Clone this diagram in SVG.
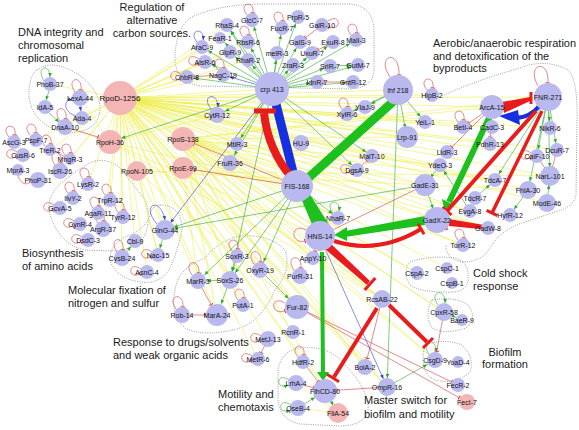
<svg xmlns="http://www.w3.org/2000/svg" width="579" height="430" viewBox="0 0 579 430">
<style>
.n circle{fill:#b9b9f0}
.p circle{fill:#f4b5b5}
text{font-family:"Liberation Sans",Arial,Helvetica,sans-serif;fill:#111}
.n text,.p text{font-size:7px;text-anchor:middle}
.t{font-size:11px;fill:#1a1a1a}
.tc{text-anchor:middle}
.y line{stroke:#eeee4e;stroke-width:.6}
.g line,.g path{stroke:#2fa82f;stroke-width:.6;fill:none}
.r line,.r path{stroke:#d43a3a;stroke-width:.6;fill:none}
.b line,.b path{stroke:#3040d0;stroke-width:.6;fill:none}
.reg{fill:none;stroke:#555;stroke-width:.6;stroke-dasharray:1 1.3}
</style>
<defs>
<marker id="g0" viewBox="-20 -4 22 8" markerWidth="22" markerHeight="8" refX="0" refY="0" orient="auto" markerUnits="userSpaceOnUse"><path d="M-4,-1.8L0,0L-4,1.8z" fill="#2fa82f"/></marker>
<marker id="g7" viewBox="-20 -4 22 8" markerWidth="22" markerHeight="8" refX="0" refY="0" orient="auto" markerUnits="userSpaceOnUse"><path d="M-11,-1.8L-7,0L-11,1.8z" fill="#2fa82f"/></marker>
<marker id="g9" viewBox="-20 -4 22 8" markerWidth="22" markerHeight="8" refX="0" refY="0" orient="auto" markerUnits="userSpaceOnUse"><path d="M-13,-1.8L-9,0L-13,1.8z" fill="#2fa82f"/></marker>
<marker id="g12" viewBox="-20 -4 22 8" markerWidth="22" markerHeight="8" refX="0" refY="0" orient="auto" markerUnits="userSpaceOnUse"><path d="M-16,-1.8L-12,0L-16,1.8z" fill="#2fa82f"/></marker>
<marker id="r0" viewBox="-20 -4 22 8" markerWidth="22" markerHeight="8" refX="0" refY="0" orient="auto" markerUnits="userSpaceOnUse"><path d="M0,-2.3V2.3" stroke="#d43a3a" stroke-width="1"/></marker>
<marker id="r7" viewBox="-20 -4 22 8" markerWidth="22" markerHeight="8" refX="0" refY="0" orient="auto" markerUnits="userSpaceOnUse"><path d="M-7,-2.3V2.3" stroke="#d43a3a" stroke-width="1"/></marker>
<marker id="r9" viewBox="-20 -4 22 8" markerWidth="22" markerHeight="8" refX="0" refY="0" orient="auto" markerUnits="userSpaceOnUse"><path d="M-9,-2.3V2.3" stroke="#d43a3a" stroke-width="1"/></marker>
<marker id="r12" viewBox="-20 -4 22 8" markerWidth="22" markerHeight="8" refX="0" refY="0" orient="auto" markerUnits="userSpaceOnUse"><path d="M-12,-2.3V2.3" stroke="#d43a3a" stroke-width="1"/></marker>
<marker id="b0" viewBox="-20 -4 22 8" markerWidth="22" markerHeight="8" refX="0" refY="0" orient="auto" markerUnits="userSpaceOnUse"><path d="M-4,-1.8L0,0L-4,1.8z" fill="#3040d0"/></marker>
<marker id="b7" viewBox="-20 -4 22 8" markerWidth="22" markerHeight="8" refX="0" refY="0" orient="auto" markerUnits="userSpaceOnUse"><path d="M-11,-1.8L-7,0L-11,1.8z" fill="#3040d0"/></marker>
<marker id="b9" viewBox="-20 -4 22 8" markerWidth="22" markerHeight="8" refX="0" refY="0" orient="auto" markerUnits="userSpaceOnUse"><path d="M-13,-1.8L-9,0L-13,1.8z" fill="#3040d0"/></marker>
</defs>
<rect width="579" height="430" fill="#fff"/>
<g id="regions">
<path class="reg" d="M37,70 Q50,60 70,70 Q95,82 100,105 Q101,126 82,131 Q62,136 45,124 Q28,112 29,90 Q30,75 37,70Z"/>
<path class="reg" d="M190,18 Q215,5 260,4 L350,4 Q373,6 374,30 L374,70 Q373,88 350,89 L200,86 Q176,82 175,60 Q175,30 190,18Z"/>
<path class="reg" d="M436,99 Q470,82 520,68 Q545,58 568,70 Q578,80 577,120 L576,195 Q574,207 555,212 L525,222 Q500,230 490,248 Q482,262 462,262 Q445,258 446,245"/>
<path class="reg" d="M95,161 Q110,158 122,170 L145,200 Q152,215 145,235 Q138,250 110,251 L85,250 Q60,245 50,215 Q45,195 65,180 Q85,164 95,161Z"/>
<path class="reg" d="M160,205 Q182,205 182,230 Q178,250 170,268 Q160,285 140,282 Q115,278 110,260 Q110,245 125,237 Q145,230 150,215 Q152,205 160,205Z"/>
<path class="reg" d="M240,236 Q270,234 285,250 Q292,270 275,290 Q262,320 240,328 Q205,338 185,328 Q170,315 175,290 Q178,268 205,258 Q220,240 240,236Z"/>
<path class="reg" d="M300,348 Q330,345 345,365 Q365,385 368,405 Q370,425 340,426 L300,424 Q280,420 278,400 L278,370 Q282,350 300,348Z"/>
<path class="reg" d="M410,262 Q430,255 455,258 Q470,262 468,280 Q466,294 445,292 Q420,292 410,285 Q402,272 410,262Z"/>
<path class="reg" d="M432,300 Q455,296 468,305 Q478,318 466,328 Q445,335 432,328 Q424,315 432,300Z"/>
<path class="reg" d="M425,345 Q445,338 462,345 Q475,358 470,372 Q455,385 435,380 Q418,372 425,345Z"/>
</g>
<g id="edges">
<g class="y">
<line x1="120" y1="98" x2="50" y2="84"/><line x1="120" y1="98" x2="80" y2="98"/><line x1="120" y1="98" x2="65" y2="127"/><line x1="120" y1="98" x2="110" y2="142"/><line x1="120" y1="98" x2="183" y2="139"/><line x1="120" y1="98" x2="183" y2="168"/><line x1="120" y1="98" x2="137" y2="171"/><line x1="120" y1="98" x2="217" y2="115"/><line x1="120" y1="98" x2="272" y2="89"/><line x1="120" y1="98" x2="202" y2="47"/><line x1="120" y1="98" x2="205" y2="62"/><line x1="120" y1="98" x2="187" y2="77"/><line x1="120" y1="98" x2="223" y2="75"/><line x1="120" y1="98" x2="230" y2="52"/><line x1="120" y1="98" x2="248" y2="60"/><line x1="120" y1="98" x2="248" y2="42"/><line x1="120" y1="98" x2="220" y2="38"/><line x1="120" y1="98" x2="227" y2="25"/><line x1="120" y1="98" x2="237" y2="144"/><line x1="120" y1="98" x2="230" y2="163"/><line x1="120" y1="98" x2="301" y2="143"/><line x1="120" y1="98" x2="398" y2="90"/><line x1="120" y1="98" x2="407" y2="137"/><line x1="120" y1="98" x2="425" y2="122"/><line x1="120" y1="98" x2="347" y2="114"/><line x1="120" y1="98" x2="365" y2="107"/><line x1="120" y1="98" x2="432" y2="95"/><line x1="120" y1="98" x2="492" y2="107"/><line x1="120" y1="98" x2="548" y2="97"/><line x1="120" y1="98" x2="463" y2="127"/><line x1="120" y1="98" x2="492" y2="127"/><line x1="120" y1="98" x2="490" y2="144"/><line x1="120" y1="98" x2="447" y2="152"/><line x1="120" y1="98" x2="440" y2="165"/><line x1="120" y1="98" x2="425" y2="185"/><line x1="120" y1="98" x2="372" y2="156"/><line x1="120" y1="98" x2="357" y2="170"/><line x1="120" y1="98" x2="297" y2="186"/><line x1="120" y1="98" x2="320" y2="236"/><line x1="120" y1="98" x2="338" y2="218"/><line x1="120" y1="98" x2="437" y2="220"/><line x1="120" y1="98" x2="488" y2="228"/><line x1="120" y1="98" x2="495" y2="180"/><line x1="120" y1="98" x2="550" y2="176"/><line x1="120" y1="98" x2="528" y2="190"/><line x1="120" y1="98" x2="470" y2="211"/><line x1="120" y1="98" x2="463" y2="245"/><line x1="120" y1="98" x2="417" y2="273"/><line x1="120" y1="98" x2="447" y2="268"/><line x1="120" y1="98" x2="165" y2="230"/><line x1="120" y1="98" x2="158" y2="255"/><line x1="120" y1="98" x2="198" y2="281"/><line x1="120" y1="98" x2="230" y2="280"/><line x1="120" y1="98" x2="237" y2="256"/><line x1="120" y1="98" x2="260" y2="270"/><line x1="120" y1="98" x2="217" y2="315"/><line x1="120" y1="98" x2="300" y2="276"/><line x1="120" y1="98" x2="313" y2="258"/><line x1="120" y1="98" x2="297" y2="307"/><line x1="120" y1="98" x2="382" y2="299"/><line x1="120" y1="98" x2="444" y2="312"/><line x1="120" y1="98" x2="435" y2="360"/><line x1="120" y1="98" x2="387" y2="387"/><line x1="120" y1="98" x2="325" y2="391"/><line x1="120" y1="98" x2="268" y2="339"/><line x1="120" y1="98" x2="258" y2="359"/><line x1="120" y1="98" x2="88" y2="184"/><line x1="120" y1="98" x2="110" y2="200"/><line x1="120" y1="98" x2="60" y2="171"/><line x1="120" y1="98" x2="50" y2="150"/><line x1="120" y1="98" x2="35" y2="140"/><line x1="120" y1="98" x2="70" y2="159"/><line x1="120" y1="98" x2="123" y2="217"/><line x1="120" y1="98" x2="103" y2="229"/><line x1="120" y1="98" x2="135" y2="241"/><line x1="120" y1="98" x2="122" y2="258"/><line x1="120" y1="98" x2="147" y2="272"/><line x1="120" y1="98" x2="557" y2="150"/><line x1="120" y1="98" x2="537" y2="156"/><line x1="120" y1="98" x2="550" y2="128"/><line x1="120" y1="98" x2="547" y2="203"/><line x1="120" y1="98" x2="365" y2="367"/><line x1="120" y1="98" x2="243" y2="305"/><line x1="120" y1="98" x2="293" y2="332"/><line x1="120" y1="98" x2="303" y2="362"/>
<line x1="183" y1="139" x2="437" y2="220"/><line x1="183" y1="139" x2="425" y2="185"/><line x1="183" y1="139" x2="488" y2="228"/><line x1="183" y1="139" x2="320" y2="236"/><line x1="183" y1="139" x2="435" y2="360"/><line x1="183" y1="139" x2="382" y2="299"/><line x1="183" y1="139" x2="387" y2="387"/><line x1="183" y1="139" x2="365" y2="367"/><line x1="183" y1="139" x2="297" y2="307"/><line x1="183" y1="139" x2="548" y2="97"/><line x1="183" y1="139" x2="492" y2="107"/><line x1="183" y1="139" x2="495" y2="180"/><line x1="183" y1="139" x2="440" y2="165"/><line x1="183" y1="139" x2="217" y2="315"/><line x1="183" y1="139" x2="230" y2="280"/><line x1="183" y1="139" x2="260" y2="270"/><line x1="183" y1="139" x2="325" y2="391"/><line x1="183" y1="139" x2="407" y2="137"/><line x1="183" y1="139" x2="463" y2="245"/><line x1="183" y1="139" x2="417" y2="273"/><line x1="183" y1="139" x2="444" y2="312"/><line x1="183" y1="139" x2="470" y2="211"/><line x1="183" y1="139" x2="338" y2="218"/><line x1="183" y1="139" x2="313" y2="258"/>
<line x1="110" y1="142" x2="297" y2="186"/><line x1="110" y1="142" x2="217" y2="115"/><line x1="110" y1="142" x2="65" y2="127"/><line x1="110" y1="142" x2="80" y2="98"/><line x1="110" y1="142" x2="320" y2="236"/><line x1="110" y1="142" x2="382" y2="299"/>
<line x1="183" y1="168" x2="198" y2="281"/><line x1="183" y1="168" x2="297" y2="186"/><line x1="183" y1="168" x2="382" y2="299"/><line x1="183" y1="168" x2="387" y2="387"/><line x1="183" y1="168" x2="297" y2="307"/>
<line x1="137" y1="171" x2="165" y2="230"/><line x1="137" y1="171" x2="158" y2="255"/><line x1="137" y1="171" x2="550" y2="176"/><line x1="137" y1="171" x2="528" y2="190"/><line x1="137" y1="171" x2="297" y2="307"/>
<line x1="338" y1="413" x2="325" y2="391"/><line x1="338" y1="413" x2="298" y2="408"/><line x1="338" y1="413" x2="296" y2="383"/>
<line x1="467" y1="402" x2="458" y2="385"/>
</g>
<g class="g">
<line x1="272" y1="89" x2="227" y2="25" marker-end="url(#g7)"/><line x1="272" y1="89" x2="252" y2="20" marker-end="url(#g7)"/><line x1="272" y1="89" x2="282" y2="28" marker-end="url(#g7)"/><line x1="272" y1="89" x2="298" y2="17" marker-end="url(#g7)"/><line x1="272" y1="89" x2="220" y2="38" marker-end="url(#g7)"/><line x1="272" y1="89" x2="248" y2="42" marker-end="url(#g7)"/><line x1="272" y1="89" x2="300" y2="42" marker-end="url(#g7)"/><line x1="272" y1="89" x2="333" y2="42" marker-end="url(#g7)"/><line x1="272" y1="89" x2="356" y2="40" marker-end="url(#g7)"/><line x1="272" y1="89" x2="202" y2="47" marker-end="url(#g7)"/><line x1="272" y1="89" x2="230" y2="52" marker-end="url(#g7)"/><line x1="272" y1="89" x2="277" y2="53" marker-end="url(#g7)"/><line x1="272" y1="89" x2="312" y2="53" marker-end="url(#g7)"/><line x1="272" y1="89" x2="205" y2="62" marker-end="url(#g7)"/><line x1="272" y1="89" x2="248" y2="60" marker-end="url(#g7)"/><line x1="272" y1="89" x2="293" y2="65" marker-end="url(#g7)"/><line x1="272" y1="89" x2="330" y2="66" marker-end="url(#g7)"/><line x1="272" y1="89" x2="358" y2="65" marker-end="url(#g7)"/><line x1="272" y1="89" x2="187" y2="77" marker-end="url(#g7)"/><line x1="272" y1="89" x2="317" y2="82" marker-end="url(#g7)"/><line x1="272" y1="89" x2="353" y2="82" marker-end="url(#g7)"/><line x1="272" y1="89" x2="217" y2="115" marker-end="url(#g9)"/><line x1="272" y1="89" x2="237" y2="144" marker-end="url(#g7)"/><line x1="272" y1="89" x2="230" y2="163" marker-end="url(#g9)"/><line x1="272" y1="89" x2="372" y2="156" marker-end="url(#g7)"/><line x1="272" y1="89" x2="110" y2="142" marker-end="url(#g12)"/><line x1="272" y1="89" x2="357" y2="170" marker-end="url(#g7)"/><line x1="272" y1="89" x2="230" y2="280" marker-end="url(#g9)"/>
<line x1="297" y1="186" x2="165" y2="230" marker-end="url(#g9)"/><line x1="297" y1="186" x2="198" y2="281" marker-end="url(#g9)"/><line x1="297" y1="186" x2="260" y2="270" marker-end="url(#g9)"/><line x1="297" y1="186" x2="338" y2="218" marker-end="url(#g7)"/><line x1="297" y1="186" x2="230" y2="280" marker-end="url(#g9)"/>
<line x1="398" y1="90" x2="365" y2="107" marker-end="url(#g7)"/><line x1="398" y1="90" x2="347" y2="114" marker-end="url(#g7)"/><line x1="398" y1="90" x2="425" y2="122" marker-end="url(#g7)"/><line x1="398" y1="90" x2="407" y2="137" marker-end="url(#g9)"/><line x1="398" y1="90" x2="387" y2="387" marker-end="url(#g9)"/>
<line x1="425" y1="185" x2="437" y2="220" marker-end="url(#g12)"/><line x1="425" y1="185" x2="165" y2="230" marker-end="url(#g9)"/><line x1="440" y1="165" x2="425" y2="185" marker-end="url(#g9)"/><line x1="470" y1="211" x2="440" y2="165" marker-end="url(#g7)"/>
<line x1="548" y1="97" x2="550" y2="176" marker-end="url(#g9)"/><line x1="548" y1="97" x2="537" y2="156" marker-end="url(#g7)"/><line x1="548" y1="97" x2="557" y2="150" marker-end="url(#g7)"/><line x1="548" y1="97" x2="528" y2="190" marker-end="url(#g9)"/><line x1="548" y1="97" x2="550" y2="128" marker-end="url(#g7)"/><line x1="548" y1="97" x2="495" y2="180" marker-end="url(#g7)"/>
<line x1="547" y1="203" x2="550" y2="176" marker-end="url(#g9)"/><line x1="528" y1="190" x2="510" y2="215" marker-end="url(#g7)"/><line x1="475" y1="198" x2="495" y2="180" marker-end="url(#g7)"/>
<line x1="237" y1="256" x2="230" y2="280" marker-end="url(#g9)"/><line x1="230" y1="280" x2="217" y2="315" marker-end="url(#g12)"/><line x1="230" y1="280" x2="198" y2="281" marker-end="url(#g9)"/><line x1="260" y1="270" x2="297" y2="307" marker-end="url(#g12)"/>
<line x1="165" y1="230" x2="158" y2="255" marker-end="url(#g7)"/><line x1="122" y1="258" x2="135" y2="241" marker-end="url(#g7)"/>
<line x1="49" y1="91" x2="46" y2="100" marker-end="url(#g0)"/><line x1="48" y1="112" x2="59" y2="122" marker-end="url(#g0)"/>
<line x1="325" y1="391" x2="338" y2="413" marker-end="url(#g9)"/><line x1="298" y1="408" x2="325" y2="391" marker-end="url(#g12)"/><line x1="387" y1="387" x2="435" y2="360" marker-end="url(#g9)"/><line x1="444" y1="312" x2="462" y2="320" marker-end="url(#g7)"/>
<line x1="330" y1="66" x2="358" y2="65" marker-end="url(#g7)"/><line x1="248" y1="60" x2="227" y2="25" marker-end="url(#g7)"/>
<path d="M44,81 C35,67 50,62 50,77" marker-end="url(#g0)"/>
<path d="M333,213 C323,201 341,197 339,211" marker-end="url(#g0)"/>
<path d="M289,380 C276,371 275,391 288,385" marker-end="url(#g0)"/>
<path d="M291,405 C278,396 277,416 290,410" marker-end="url(#g0)"/>
<path d="M438,305 C428,291 446,287 445,303" marker-end="url(#g0)"/>
<path d="M429,354 C419,340 437,336 436,352" marker-end="url(#g0)"/>
</g>
<g class="r">
<line x1="297" y1="186" x2="183" y2="139" marker-end="url(#r12)"/><line x1="297" y1="186" x2="183" y2="168" marker-end="url(#r12)"/>
<line x1="320" y1="236" x2="313" y2="258" marker-end="url(#r7)"/><line x1="320" y1="236" x2="425" y2="185" marker-end="url(#r9)"/>
<line x1="492" y1="107" x2="463" y2="127" marker-end="url(#r7)"/><line x1="492" y1="107" x2="490" y2="144" marker-end="url(#r7)"/><line x1="492" y1="107" x2="447" y2="152" marker-end="url(#r7)"/>
<line x1="537" y1="156" x2="550" y2="176" marker-end="url(#r9)"/><line x1="557" y1="150" x2="550" y2="176" marker-end="url(#r9)"/>
<line x1="297" y1="307" x2="467" y2="402" marker-end="url(#r9)"/><line x1="297" y1="307" x2="458" y2="385" marker-end="url(#r7)"/>
<line x1="268" y1="339" x2="258" y2="359" marker-end="url(#r7)"/><line x1="182" y1="315" x2="217" y2="315" marker-end="url(#r12)"/><line x1="198" y1="281" x2="217" y2="315" marker-end="url(#r12)"/>
<line x1="382" y1="299" x2="365" y2="367" marker-end="url(#r9)"/><line x1="387" y1="387" x2="325" y2="391" marker-end="url(#r12)"/><line x1="303" y1="362" x2="325" y2="391" marker-end="url(#r12)" style="stroke:#c0703a"/><line x1="296" y1="383" x2="325" y2="391" marker-end="url(#r12)"/><line x1="444" y1="312" x2="435" y2="360" marker-end="url(#r9)"/>
<line x1="322" y1="25" x2="300" y2="42" marker-end="url(#r7)"/><line x1="333" y1="42" x2="312" y2="53" marker-end="url(#r7)"/><line x1="353" y1="82" x2="317" y2="82" marker-end="url(#r7)"/><line x1="223" y1="75" x2="187" y2="77" marker-end="url(#r7)"/>
<line x1="55" y1="151" x2="65" y2="157" marker-end="url(#r0)"/><line x1="72" y1="129" x2="98" y2="137" marker-end="url(#r0)"/><line x1="357" y1="170" x2="372" y2="156" marker-end="url(#r7)"/>
<path d="M18,176 C22,186 28,185 31,181" marker-end="url(#r0)"/>
<path d="M75,92 C65,78 83,74 81,90" marker-end="url(#r0)"/>
<path d="M60,121 C50,107 68,103 66,119" marker-end="url(#r0)"/>
<path d="M9,137 C-1,125 17,121 15,135" marker-end="url(#r0)"/>
<path d="M30,135 C20,123 38,119 36,133" marker-end="url(#r0)"/>
<path d="M45,146 C35,134 53,130 51,144" marker-end="url(#r0)"/>
<path d="M65,155 C55,143 73,139 71,153" marker-end="url(#r0)"/>
<path d="M17,152 C4,143 3,163 16,157" marker-end="url(#r0)"/>
<path d="M55,165 C45,151 63,147 61,163" marker-end="url(#r0)"/>
<path d="M83,179 C73,167 91,163 89,177" marker-end="url(#r0)"/>
<path d="M68,193 C58,181 76,177 74,191" marker-end="url(#r0)"/>
<path d="M105,195 C95,183 113,179 111,193" marker-end="url(#r0)"/>
<path d="M54,205 C41,196 40,216 53,210" marker-end="url(#r0)"/>
<path d="M93,208 C83,196 101,192 99,206" marker-end="url(#r0)"/>
<path d="M118,212 C108,200 126,196 124,210" marker-end="url(#r0)"/>
<path d="M74,221 C61,212 60,232 73,226" marker-end="url(#r0)"/>
<path d="M98,223 C88,209 106,205 104,221" marker-end="url(#r0)"/>
<path d="M82,237 C69,228 68,248 81,242" marker-end="url(#r0)"/>
<path d="M117,252 C107,238 125,234 123,250" marker-end="url(#r0)"/>
<path d="M152,252 C139,243 138,263 151,257" marker-end="url(#r0)"/>
<path d="M141,269 C128,260 127,280 140,274" marker-end="url(#r0)"/>
<path d="M199,59 C186,50 185,70 198,64" marker-end="url(#r0)"/>
<path d="M181,74 C168,65 167,85 180,79" marker-end="url(#r0)"/>
<path d="M218,70 C208,58 226,54 224,68" marker-end="url(#r0)"/>
<path d="M243,37 C233,25 251,21 249,35" marker-end="url(#r0)"/>
<path d="M247,15 C237,3 255,-1 253,13" marker-end="url(#r0)"/>
<path d="M277,23 C267,11 285,7 283,21" marker-end="url(#r0)"/>
<path d="M328,21 C341,12 342,32 329,27" marker-end="url(#r0)"/>
<path d="M351,35 C341,23 359,19 357,33" marker-end="url(#r0)"/>
<path d="M390,77 C375,55 400,48 399,75" marker-end="url(#r0)"/>
<path d="M427,90 C417,78 435,74 433,88" marker-end="url(#r0)"/>
<path d="M538,86 C525,63 550,58 548,83" marker-end="url(#r0)"/>
<path d="M531,153 C518,144 517,164 530,158" marker-end="url(#r0)"/>
<path d="M351,167 C338,158 337,178 350,172" marker-end="url(#r0)"/>
<path d="M306,230 C290,222 290,245 305,241" marker-end="url(#r0)"/>
<path d="M294,270 C284,256 302,252 301,268" marker-end="url(#r0)"/>
<path d="M285,303 C270,294 270,316 285,311" marker-end="url(#r0)"/>
<path d="M261,336 C248,327 247,347 260,341" marker-end="url(#r0)"/>
<path d="M252,356 C239,347 238,367 251,361" marker-end="url(#r0)"/>
<path d="M232,251 C222,239 240,235 238,249" marker-end="url(#r0)"/>
<path d="M254,264 C244,250 262,246 261,262" marker-end="url(#r0)"/>
<path d="M192,275 C182,261 200,257 199,273" marker-end="url(#r0)"/>
<path d="M238,300 C228,288 246,284 244,298" marker-end="url(#r0)"/>
<path d="M176,309 C166,295 184,291 183,307" marker-end="url(#r0)"/>
<path d="M298,357 C288,345 306,341 304,355" marker-end="url(#r0)"/>
<path d="M342,109 C332,97 350,93 348,107" marker-end="url(#r0)"/>
<path d="M458,240 C448,228 466,224 464,238" marker-end="url(#r0)"/>
<path d="M458,122 C448,110 466,106 464,120" marker-end="url(#r0)"/>
</g>
<g class="b">
<line x1="272" y1="89" x2="165" y2="230" marker-end="url(#b9)"/><line x1="272" y1="89" x2="223" y2="75" marker-end="url(#b7)"/><line x1="297" y1="186" x2="387" y2="387" marker-end="url(#b9)"/><line x1="80" y1="106" x2="81" y2="111" marker-end="url(#b0)"/>
<path d="M76,116 C62,112 64,98 72,100" marker-end="url(#b0)"/>
<path d="M157,224 C140,205 160,195 165,220" marker-end="url(#b0)"/>
<path d="M211,109 C200,95 218,91 218,107" marker-end="url(#b0)"/>
<path d="M197,42 C187,30 205,26 203,40" marker-end="url(#b0)"/>
</g>
<g id="thick">
<line x1="276" y1="104" x2="293" y2="172" stroke="#1530e0" stroke-width="9"/>
<path d="M264,113 Q268,150 292,178" fill="none" stroke="#e81c1c" stroke-width="8"/>
<line x1="254" y1="111" x2="276" y2="111" stroke="#e81c1c" stroke-width="5"/>
<line x1="396" y1="99" x2="306" y2="180" stroke="#1ec01e" stroke-width="9"/>
<polygon points="300,196 309,193 330,226 314,229" fill="#1ec01e"/>
<line x1="322" y1="252" x2="323" y2="374" stroke="#1ec01e" stroke-width="4"/>
<polygon points="317,372 329,372 323,381" fill="#1ec01e"/>
<polygon points="425,216 425,225 345,237 345,231" fill="#1ec01e"/>
<polygon points="347,227 347,241 334,235" fill="#1ec01e"/>
<path d="M334,241 Q378,255 421,229" fill="none" stroke="#e81c1c" stroke-width="4"/>
<line x1="417.9" y1="223.8" x2="424.1" y2="234.2" stroke="#e81c1c" stroke-width="3"/>
<polygon points="325,249 330,243 370,281 367,285" fill="#e81c1c"/>
<line x1="364.7" y1="290" x2="375.3" y2="278" stroke="#e81c1c" stroke-width="3"/>
<line x1="389" y1="305" x2="427" y2="342" stroke="#e81c1c" stroke-width="4"/>
<line x1="423" y1="348" x2="433" y2="338" stroke="#e81c1c" stroke-width="3"/>
<line x1="377" y1="308" x2="334" y2="377" stroke="#e81c1c" stroke-width="4"/>
<line x1="327" y1="374.3" x2="339" y2="381.7" stroke="#e81c1c" stroke-width="3"/>
<polygon points="502,102 504,113 530,101 530,97" fill="#e81c1c"/>
<line x1="531" y1="92" x2="531" y2="104" stroke="#e81c1c" stroke-width="3"/>
<path d="M541,104 Q530,118 515,118" fill="none" stroke="#1530e0" stroke-width="4"/>
<polygon points="518,110 520,125 499,116" fill="#1530e0"/>
<line x1="489" y1="118" x2="449" y2="202" stroke="#1ec01e" stroke-width="6"/>
<polygon points="442,199 454,205 445,212" fill="#1ec01e"/>
<line x1="536" y1="111" x2="447" y2="211" stroke="#e81c1c" stroke-width="4"/>
<line x1="442.5" y1="207" x2="451.5" y2="215" stroke="#e81c1c" stroke-width="3"/>
<line x1="542" y1="111" x2="492" y2="213" stroke="#e81c1c" stroke-width="3.5"/>
<line x1="486.6" y1="210.4" x2="497.4" y2="215.6" stroke="#e81c1c" stroke-width="3"/>
<polygon points="449,219 449,226 490,230 490,226" fill="#e81c1c"/>
<line x1="446" y1="214" x2="446" y2="230" stroke="#e81c1c" stroke-width="3"/>
</g>
</g>
<g id="nodes">
<g id="n-rpod" class="p"><circle cx="120" cy="98" r="17"/><text x="120" y="100.5" style="font-size:8px">RpoD-1256</text></g>
<g id="n-rpoh" class="p"><circle cx="110" cy="142" r="12"/><text x="110" y="144.5">RpoH-36</text></g>
<g id="n-rpos" class="p"><circle cx="183" cy="139" r="12"/><text x="183" y="141.5">RpoS-138</text></g>
<g id="n-rpon" class="p"><circle cx="137" cy="171" r="10"/><text x="137" y="173.5">RpoN-105</text></g>
<g id="n-rpoe" class="p"><circle cx="183" cy="168" r="11"/><text x="183" y="170.5">RpoE-99</text></g>
<g id="n-flia" class="p"><circle cx="338" cy="413" r="10"/><text x="338" y="415.5">FliA-54</text></g>
<g id="n-feci" class="p"><circle cx="467" cy="402" r="8"/><text x="467" y="404.5">FecI-7</text></g>
<g id="n-phob" class="n"><circle cx="50" cy="84" r="7"/><text x="50" y="86.5">PhoB-37</text></g>
<g id="n-ida" class="n"><circle cx="45" cy="107" r="7"/><text x="45" y="109.5">IdA-5</text></g>
<g id="n-lexa" class="n"><circle cx="80" cy="98" r="8"/><text x="80" y="100.5">LexA-44</text></g>
<g id="n-ada" class="n"><circle cx="82" cy="118" r="7"/><text x="82" y="120.5">Ada-4</text></g>
<g id="n-dnaa" class="n"><circle cx="65" cy="127" r="8"/><text x="65" y="129.5">DnaA-10</text></g>
<g id="n-ascg" class="n"><circle cx="14" cy="142" r="7"/><text x="14" y="144.5">AscG-3</text></g>
<g id="n-pspf" class="n"><circle cx="36" cy="140" r="7"/><text x="36" y="142.5">PspF-7</text></g>
<g id="n-cusr" class="n"><circle cx="23" cy="155" r="7"/><text x="23" y="157.5">CusR-6</text></g>
<g id="n-trer" class="n"><circle cx="50" cy="150" r="6"/><text x="50" y="152.5">TreR-2</text></g>
<g id="n-mngr" class="n"><circle cx="70" cy="159" r="6"/><text x="70" y="161.5">MngR-3</text></g>
<g id="n-mpra" class="n"><circle cx="18" cy="170" r="6"/><text x="18" y="172.5">MprA-3</text></g>
<g id="n-iscr" class="n"><circle cx="60" cy="171" r="8"/><text x="60" y="173.5">IscR-26</text></g>
<g id="n-phop" class="n"><circle cx="38" cy="180" r="8"/><text x="38" y="182.5">PhoP-31</text></g>
<g id="n-lysr" class="n"><circle cx="88" cy="184" r="7"/><text x="88" y="186.5">LysR-2</text></g>
<g id="n-ilvy" class="n"><circle cx="73" cy="198" r="7"/><text x="73" y="200.5">IlvY-2</text></g>
<g id="n-trpr" class="n"><circle cx="110" cy="200" r="7"/><text x="110" y="202.5">TrpR-12</text></g>
<g id="n-gcva" class="n"><circle cx="60" cy="208" r="7"/><text x="60" y="210.5">GcvA-5</text></g>
<g id="n-agar" class="n"><circle cx="98" cy="213" r="7"/><text x="98" y="215.5">AgaR-11</text></g>
<g id="n-tyrr" class="n"><circle cx="123" cy="217" r="7"/><text x="123" y="219.5">TyrR-12</text></g>
<g id="n-cynr" class="n"><circle cx="80" cy="224" r="7"/><text x="80" y="226.5">CynR-4</text></g>
<g id="n-argr" class="n"><circle cx="103" cy="229" r="8"/><text x="103" y="231.5">ArgR-37</text></g>
<g id="n-dsdc" class="n"><circle cx="88" cy="240" r="7"/><text x="88" y="242.5">DsdC-3</text></g>
<g id="n-cbl" class="n"><circle cx="135" cy="241" r="7"/><text x="135" y="243.5">Cbl-9</text></g>
<g id="n-cysb" class="n"><circle cx="122" cy="258" r="8"/><text x="122" y="260.5">CysB-24</text></g>
<g id="n-asnc" class="n"><circle cx="147" cy="272" r="7"/><text x="147" y="274.5">AsnC-4</text></g>
<g id="n-nac" class="n"><circle cx="158" cy="255" r="7"/><text x="158" y="257.5">Nac-15</text></g>
<g id="n-glng" class="n"><circle cx="165" cy="230" r="10"/><text x="165" y="232.5">GlnG-44</text></g>
<g id="n-rhas" class="n"><circle cx="227" cy="25" r="7"/><text x="227" y="27.5">RhaS-4</text></g>
<g id="n-glcc" class="n"><circle cx="252" cy="20" r="7"/><text x="252" y="22.5">GlcC-7</text></g>
<g id="n-fucr" class="n"><circle cx="282" cy="28" r="7"/><text x="282" y="30.5">FucR-7</text></g>
<g id="n-prpr" class="n"><circle cx="298" cy="17" r="7"/><text x="298" y="19.5">PrpR-5</text></g>
<g id="n-galr" class="n"><circle cx="322" cy="25" r="7"/><text x="322" y="27.5">GalR-10</text></g>
<g id="n-fear" class="n"><circle cx="220" cy="38" r="6"/><text x="220" y="40.5">FeaR-1</text></g>
<g id="n-rbsr" class="n"><circle cx="248" cy="42" r="7"/><text x="248" y="44.5">RbsR-6</text></g>
<g id="n-gals" class="n"><circle cx="300" cy="42" r="7"/><text x="300" y="44.5">GalS-9</text></g>
<g id="n-exur" class="n"><circle cx="333" cy="42" r="7"/><text x="333" y="44.5">ExuR-8</text></g>
<g id="n-mali" class="n"><circle cx="356" cy="40" r="7"/><text x="356" y="42.5">MalI-3</text></g>
<g id="n-arac" class="n"><circle cx="202" cy="47" r="7"/><text x="202" y="49.5">AraC-9</text></g>
<g id="n-glpr" class="n"><circle cx="230" cy="52" r="7"/><text x="230" y="54.5">GlpR-9</text></g>
<g id="n-melr" class="n"><circle cx="277" cy="53" r="7"/><text x="277" y="55.5">melR-3</text></g>
<g id="n-uxur" class="n"><circle cx="312" cy="53" r="7"/><text x="312" y="55.5">UxuR-7</text></g>
<g id="n-alsr" class="n"><circle cx="205" cy="62" r="7"/><text x="205" y="64.5">AlsR-6</text></g>
<g id="n-rhar" class="n"><circle cx="248" cy="60" r="7"/><text x="248" y="62.5">RhaR-2</text></g>
<g id="n-zrar" class="n"><circle cx="293" cy="65" r="7"/><text x="293" y="67.5">ZraR-3</text></g>
<g id="n-srlr" class="n"><circle cx="330" cy="66" r="7"/><text x="330" y="68.5">SrlR-7</text></g>
<g id="n-gutm" class="n"><circle cx="358" cy="65" r="7"/><text x="358" y="67.5">GutM-7</text></g>
<g id="n-chbr" class="n"><circle cx="187" cy="77" r="7"/><text x="187" y="79.5">ChbR-8</text></g>
<g id="n-nagc" class="n"><circle cx="223" cy="75" r="7"/><text x="223" y="77.5">NagC-19</text></g>
<g id="n-idnr" class="n"><circle cx="317" cy="82" r="7"/><text x="317" y="84.5">IdnR-7</text></g>
<g id="n-gntr" class="n"><circle cx="353" cy="82" r="7"/><text x="353" y="84.5">GntR-12</text></g>
<g id="n-crp" class="n"><circle cx="272" cy="89" r="17"/><text x="272" y="91.5">crp 413</text></g>
<g id="n-cytr" class="n"><circle cx="217" cy="115" r="8"/><text x="217" y="117.5">CytR-12</text></g>
<g id="n-mtlr" class="n"><circle cx="237" cy="144" r="7"/><text x="237" y="146.5">MtlR-3</text></g>
<g id="n-frur" class="n"><circle cx="230" cy="163" r="8"/><text x="230" y="165.5">FruR-36</text></g>
<g id="n-hu" class="n"><circle cx="301" cy="143" r="8"/><text x="301" y="145.5">HU-9</text></g>
<g id="n-ihf" class="n"><circle cx="398" cy="90" r="15"/><text x="398" y="92.5">ihf 218</text></g>
<g id="n-hipb" class="n"><circle cx="432" cy="95" r="7"/><text x="432" y="97.5">HipB-2</text></g>
<g id="n-ylaj" class="n"><circle cx="365" cy="107" r="7"/><text x="365" y="109.5">YlaJ-9</text></g>
<g id="n-xylr" class="n"><circle cx="347" cy="114" r="7"/><text x="347" y="116.5">XylR-6</text></g>
<g id="n-yeil" class="n"><circle cx="425" cy="122" r="7"/><text x="425" y="124.5">YeiL-1</text></g>
<g id="n-lrp" class="n"><circle cx="407" cy="137" r="11"/><text x="407" y="139.5">Lrp-91</text></g>
<g id="n-malt" class="n"><circle cx="372" cy="156" r="7"/><text x="372" y="158.5">MalT-10</text></g>
<g id="n-dgsa" class="n"><circle cx="357" cy="170" r="7"/><text x="357" y="172.5">DgsA-9</text></g>
<g id="n-gade" class="n"><circle cx="425" cy="185" r="11"/><text x="425" y="187.5">GadE-31</text></g>
<g id="n-fis" class="n"><circle cx="297" cy="186" r="16"/><text x="297" y="188.5">FIS-168</text></g>
<g id="n-lldr" class="n"><circle cx="447" cy="152" r="7"/><text x="447" y="154.5">LldR-3</text></g>
<g id="n-ydeo" class="n"><circle cx="440" cy="165" r="7"/><text x="440" y="167.5">YdeO-3</text></g>
<g id="n-arca" class="n"><circle cx="492" cy="107" r="12"/><text x="492" y="109.5">ArcA-15</text></g>
<g id="n-fnr" class="n"><circle cx="548" cy="97" r="14"/><text x="548" y="99.5">FNR-271</text></g>
<g id="n-beti" class="n"><circle cx="463" cy="127" r="7"/><text x="463" y="129.5">BetI-4</text></g>
<g id="n-cadc" class="n"><circle cx="492" cy="127" r="7"/><text x="492" y="129.5">CadC-3</text></g>
<g id="n-nikr" class="n"><circle cx="550" cy="128" r="7"/><text x="550" y="130.5">NikR-6</text></g>
<g id="n-pdhr" class="n"><circle cx="490" cy="144" r="7"/><text x="490" y="146.5">PdhR-13</text></g>
<g id="n-dcur" class="n"><circle cx="557" cy="150" r="7"/><text x="557" y="152.5">DcuR-7</text></g>
<g id="n-caif" class="n"><circle cx="537" cy="156" r="7"/><text x="537" y="158.5">CaiF-10</text></g>
<g id="n-narl" class="n"><circle cx="550" cy="176" r="10"/><text x="550" y="178.5">NarL-101</text></g>
<g id="n-tdca" class="n"><circle cx="495" cy="180" r="7"/><text x="495" y="182.5">TdcA-7</text></g>
<g id="n-fhla" class="n"><circle cx="528" cy="190" r="9"/><text x="528" y="192.5">FhlA-30</text></g>
<g id="n-tdcr" class="n"><circle cx="475" cy="198" r="7"/><text x="475" y="200.5">TdcR-7</text></g>
<g id="n-mode" class="n"><circle cx="547" cy="203" r="9"/><text x="547" y="205.5">ModE-46</text></g>
<g id="n-evga" class="n"><circle cx="470" cy="211" r="7"/><text x="470" y="213.5">EvgA-8</text></g>
<g id="n-hyfr" class="n"><circle cx="510" cy="215" r="7"/><text x="510" y="217.5">HyfR-12</text></g>
<g id="n-gadx" class="n"><circle cx="437" cy="220" r="13"/><text x="437" y="222.5">GadX-22</text></g>
<g id="n-gadw" class="n"><circle cx="488" cy="228" r="7"/><text x="488" y="230.5">GadW-8</text></g>
<g id="n-torr" class="n"><circle cx="463" cy="245" r="7"/><text x="463" y="247.5">TorR-12</text></g>
<g id="n-nhar" class="n"><circle cx="338" cy="218" r="7"/><text x="338" y="220.5">NhaR-7</text></g>
<g id="n-hns" class="n"><circle cx="320" cy="236" r="15"/><text x="320" y="238.5">HNS-14</text></g>
<g id="n-appy" class="n"><circle cx="313" cy="258" r="7"/><text x="313" y="260.5">AppY-10</text></g>
<g id="n-purr" class="n"><circle cx="300" cy="276" r="8"/><text x="300" y="278.5">PurR-31</text></g>
<g id="n-cspa" class="n"><circle cx="417" cy="273" r="7"/><text x="417" y="275.5">CspA-2</text></g>
<g id="n-cspc" class="n"><circle cx="447" cy="268" r="6"/><text x="447" y="270.5">CspC-1</text></g>
<g id="n-cspb" class="n"><circle cx="452" cy="283" r="6"/><text x="452" y="285.5">CspB-1</text></g>
<g id="n-soxr" class="n"><circle cx="237" cy="256" r="7"/><text x="237" y="258.5">SoxR-3</text></g>
<g id="n-oxyr" class="n"><circle cx="260" cy="270" r="8"/><text x="260" y="272.5">OxyR-19</text></g>
<g id="n-marr" class="n"><circle cx="198" cy="281" r="8"/><text x="198" y="283.5">MarR-3</text></g>
<g id="n-soxs" class="n"><circle cx="230" cy="280" r="9"/><text x="230" y="282.5">SoxS-26</text></g>
<g id="n-rob" class="n"><circle cx="182" cy="315" r="8"/><text x="182" y="317.5">Rob-14</text></g>
<g id="n-mara" class="n"><circle cx="217" cy="315" r="11"/><text x="217" y="317.5">MarA-24</text></g>
<g id="n-puta" class="n"><circle cx="243" cy="305" r="7"/><text x="243" y="307.5">PutA-1</text></g>
<g id="n-fur" class="n"><circle cx="297" cy="307" r="12"/><text x="297" y="309.5">Fur-82</text></g>
<g id="n-rcnr" class="n"><circle cx="293" cy="332" r="7"/><text x="293" y="334.5">RcnR-1</text></g>
<g id="n-metj" class="n"><circle cx="268" cy="339" r="8"/><text x="268" y="341.5">MetJ-13</text></g>
<g id="n-metr" class="n"><circle cx="258" cy="359" r="7"/><text x="258" y="361.5">MetR-6</text></g>
<g id="n-rcsab" class="n"><circle cx="382" cy="299" r="9"/><text x="382" y="301.5">RcsAB-22</text></g>
<g id="n-cpxr" class="n"><circle cx="444" cy="312" r="9"/><text x="444" y="314.5">CpxR-58</text></g>
<g id="n-baer" class="n"><circle cx="462" cy="320" r="6"/><text x="462" y="322.5">BaeR-9</text></g>
<g id="n-csgd" class="n"><circle cx="435" cy="360" r="8"/><text x="435" y="362.5">CsgD-9</text></g>
<g id="n-yoad" class="n"><circle cx="458" cy="362" r="6"/><text x="458" y="364.5">YoaD-4</text></g>
<g id="n-fecr" class="n"><circle cx="458" cy="385" r="7"/><text x="458" y="387.5">FecR-2</text></g>
<g id="n-hdfr" class="n"><circle cx="303" cy="362" r="7"/><text x="303" y="364.5">HdfR-2</text></g>
<g id="n-bola" class="n"><circle cx="365" cy="367" r="8"/><text x="365" y="369.5">BolA-2</text></g>
<g id="n-ompr" class="n"><circle cx="387" cy="387" r="9"/><text x="387" y="389.5">OmpR-16</text></g>
<g id="n-lrha" class="n"><circle cx="296" cy="383" r="8"/><text x="296" y="385.5">LrhA-4</text></g>
<g id="n-flhcd" class="n"><circle cx="325" cy="391" r="12"/><text x="325" y="393.5">FlhCD-80</text></g>
<g id="n-qseb" class="n"><circle cx="298" cy="408" r="8"/><text x="298" y="410.5">QseB-4</text></g>
</g>
<g id="labels">
<text class="t" x="18" y="36">DNA integrity and</text>
<text class="t" x="18" y="49">chromosomal</text>
<text class="t" x="18" y="62">replication</text>
<text class="t tc" x="152" y="11">Regulation of</text>
<text class="t tc" x="152" y="24">alternative</text>
<text class="t tc" x="152" y="37">carbon sources.</text>
<text class="t" x="433" y="47">Aerobic/anaerobic respiration</text>
<text class="t" x="433" y="60">and detoxification of the</text>
<text class="t" x="433" y="72">byproducts</text>
<text class="t" x="22" y="257">Biosynthesis</text>
<text class="t" x="22" y="270">of amino acids</text>
<text class="t" x="68" y="294">Molecular fixation of</text>
<text class="t" x="68" y="307">nitrogen and sulfur</text>
<text class="t" x="113" y="346">Response to drugs/solvents</text>
<text class="t" x="113" y="359">and weak organic acids</text>
<text class="t" x="218" y="398">Motility and</text>
<text class="t" x="218" y="411">chemotaxis</text>
<text class="t" x="364" y="404">Master switch for</text>
<text class="t" x="364" y="418">biofilm and motility</text>
<text class="t" x="473" y="277">Cold shock</text>
<text class="t" x="473" y="290">response</text>
<text class="t tc" x="505" y="356">Biofilm</text>
<text class="t tc" x="505" y="368">formation</text>
</g>
</svg>
